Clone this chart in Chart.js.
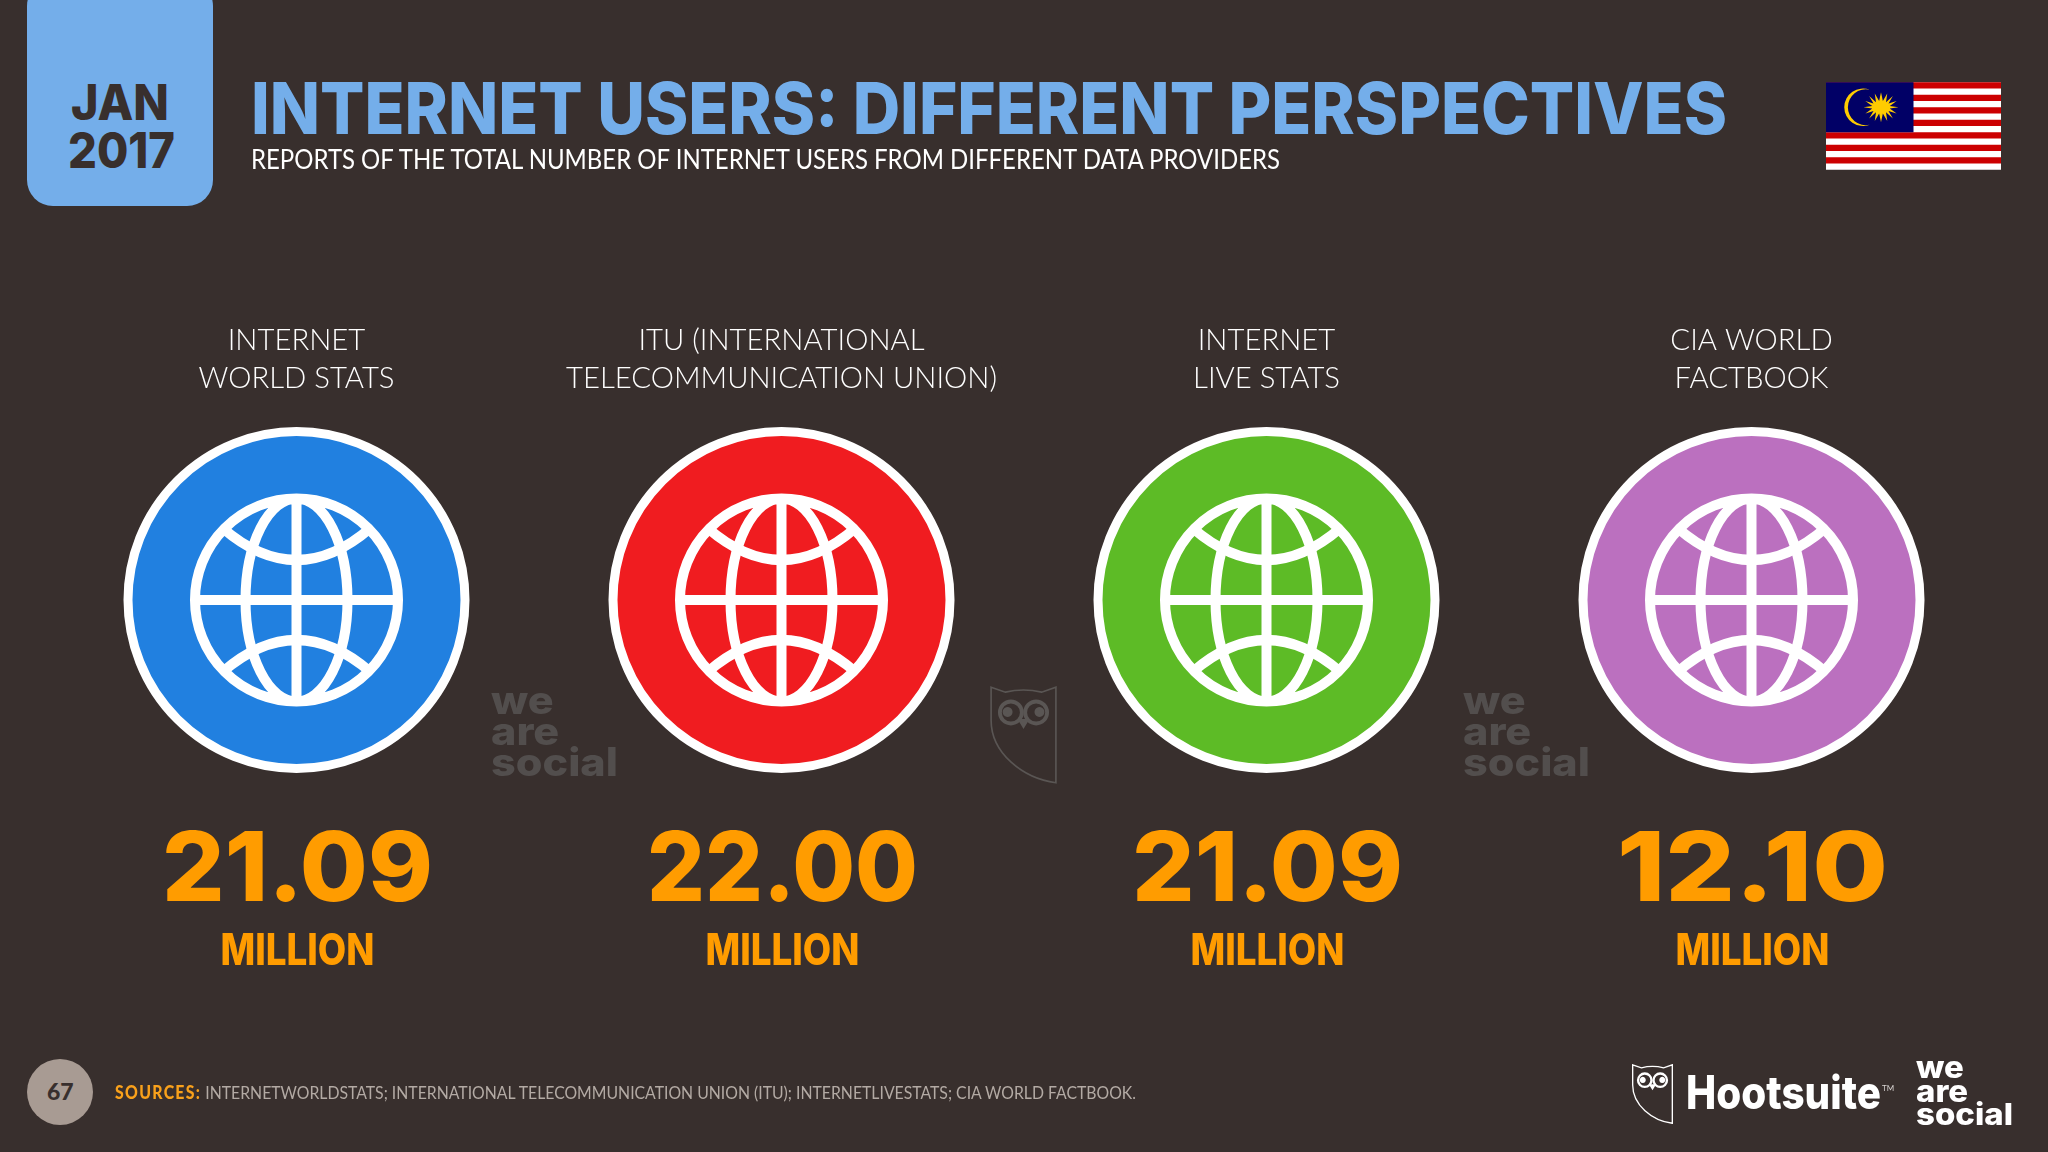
<!DOCTYPE html>
<html>
<head>
<meta charset="utf-8">
<title>Internet users: different perspectives</title>
<script src="https://cdn.jsdelivr.net/npm/chart.js@4"></script>
<style>
  html, body { margin: 0; padding: 0; background: #382f2d; }
  #slide { position: relative; width: 2048px; height: 1152px; overflow: hidden; background: #382f2d; font-family: Lato, sans-serif; }
  #chartBox { position: absolute; left: 0; top: 0; width: 2048px; height: 1152px; }
  .txt { position: absolute; white-space: nowrap; line-height: 1; transform-origin: 0 50%; }
  #badge { position: absolute; left: 27px; top: -20px; width: 186px; height: 226px; background: #74aeea; border-radius: 26px; }
  #jan, #year { color: #382f2d; font-family: Inter, sans-serif; font-weight: 800; }
  #jan { font-size: 49px; left: 71px; top: 78px; }
  #year { font-size: 50px; left: 68px; top: 125px; }
  #title { color: #74aeea; font-family: Inter, sans-serif; font-weight: 800; font-size: 72px; left: 251px; top: 72px; }
  #subtitle { color: #fff; font-size: 27px; left: 251px; top: 145px; }
  #pageDot { position: absolute; left: 27px; top: 1059px; width: 66px; height: 66px; border-radius: 50%; background: #a89b93; }
  #pageNo { color: #382f2d; font-weight: 900; font-size: 23px; left: 47px; top: 1080px; }
  #sources { font-size: 18px; left: 115px; top: 1083px; color: #b3aaa4; }
  #sources b { color: #f9a11b; font-weight: 900; letter-spacing: 1.5px; }
  #hootsuite { color: #fff; font-family: Inter, sans-serif; font-weight: 800; font-size: 46px; left: 1686px; top: 1069px; }
  #tm { color: #d8d4d2; font-size: 8px; left: 1882px; top: 1084px; }
  .ws { position: absolute; font-family: Inter, sans-serif; font-weight: 800; line-height: 0.79; white-space: pre; font-size: 39px; transform-origin: 0 0; }
  #flag, .owl { position: absolute; }
</style>
</head>
<body>
<div id="slide">
  <div id="chartBox"><canvas id="usersCanvas"></canvas></div>
  <div id="badge"></div>
  <div class="txt" id="jan" data-w="98">JAN</div>
  <div class="txt" id="year" data-w="107">2017</div>
  <div class="txt" id="title" data-w="1476">INTERNET USERS: DIFFERENT PERSPECTIVES</div>
  <div class="txt" id="subtitle" data-w="1029">REPORTS OF THE TOTAL NUMBER OF INTERNET USERS FROM DIFFERENT DATA PROVIDERS</div>

  <svg id="flag" style="left:1826px;top:82px" width="175" height="88" viewBox="0 0 28 14">
    <rect width="28" height="14" fill="#fff"/>
    <g fill="#cc0001">
      <rect y="0" width="28" height="1"/><rect y="2" width="28" height="1"/><rect y="4" width="28" height="1"/>
      <rect y="6" width="28" height="1"/><rect y="8" width="28" height="1"/><rect y="10" width="28" height="1"/>
      <rect y="12" width="28" height="1"/>
    </g>
    <rect width="14" height="8" fill="#010066"/>
    <path d="M7 1.2 A3 3 0 1 0 7 6.8 A2.87 2.87 0 1 1 7 1.2 Z" fill="#ffcc00"/>
    <path id="sun" fill="#ffcc00" d="M8.8 1.6 L9.1 3 L9.8 1.8 L9.6 3.2 L10.7 2.2 L10 3.4 L11.3 3 L10.2 3.8 L11.6 4 L10.2 4.2 L11.3 5 L10 4.6 L10.7 5.8 L9.6 4.8 L9.8 6.2 L9.1 5 L8.8 6.4 L8.5 5 L7.8 6.2 L8 4.8 L6.9 5.8 L7.6 4.6 L6.3 5 L7.4 4.2 L6 4 L7.4 3.8 L6.3 3 L7.6 3.4 L6.9 2.2 L8 3.2 L7.8 1.8 L8.5 3 Z"/>
  </svg>

  <div class="ws" style="left:491px;top:685px;color:#524e4d" data-w="127">we
are
social</div>
  <div class="ws" style="left:1463px;top:685px;color:#524e4d" data-w="127">we
are
social</div>
  <svg class="owl" style="left:990px;top:686px" width="67" height="98" viewBox="0 0 122 178">
    <g fill="none" stroke="#5a5654" stroke-width="3">
      <path d="M2 2 L28 11 Q61 3 94 11 L120 2 V176 C60 168 2 122 2 62 Z"/>
    </g>
    <g fill="none" stroke="#5a5654" stroke-width="7">
      <circle cx="38" cy="48" r="20"/><circle cx="84" cy="48" r="20"/>
    </g>
    <path d="M50 60 H72 L61 78 Z M32 38 a9 9 0 1 0 .1 0 Z M90 38 a9 9 0 1 0 .1 0 Z" fill="#5a5654"/>
  </svg>

  <div id="pageDot"></div>
  <div class="txt" id="pageNo">67</div>
  <div class="txt" id="sources" data-w="1021"><b>SOURCES:</b> INTERNETWORLDSTATS; INTERNATIONAL TELECOMMUNICATION UNION (ITU); INTERNETLIVESTATS; CIA WORLD FACTBOOK.</div>

  <svg class="owl" style="left:1632px;top:1064px" width="41" height="60" viewBox="0 0 122 178">
    <g fill="none" stroke="#fff" stroke-width="4">
      <path d="M2 2 L28 11 Q61 3 94 11 L120 2 V176 C60 168 2 122 2 62 Z"/>
    </g>
    <g fill="none" stroke="#fff" stroke-width="7">
      <circle cx="38" cy="48" r="20"/><circle cx="84" cy="48" r="20"/>
    </g>
    <path d="M50 60 H72 L61 78 Z M32 38 a9 9 0 1 0 .1 0 Z M90 38 a9 9 0 1 0 .1 0 Z" fill="#fff"/>
  </svg>
  <div class="txt" id="hootsuite" data-w="195">Hootsuite</div>
  <div class="txt" id="tm">TM</div>
  <div class="ws" style="left:1916px;top:1056px;color:#fff;font-size:30px" data-w="97">we
are
social</div>
</div>

<script>
const providers = [
    ['INTERNET', 'WORLD STATS'],
    ['ITU (INTERNATIONAL', 'TELECOMMUNICATION UNION)'],
    ['INTERNET', 'LIVE STATS'],
    ['CIA WORLD', 'FACTBOOK']
];
const users = [21.09, 22.00, 21.09, 12.10];
const unitLabel = 'MILLION';
const rows = ['Total internet users'];
const circleColors = ['#2180e0', '#f01c20', '#5dbb26', '#bb70bf'];

const orange = '#ff9c00';

// squeeze a line of canvas text to the measured width in the slide
function drawFitted(ctx, text, x, y, font, width) {
    ctx.save();
    ctx.font = font;
    ctx.textAlign = 'center';
    ctx.textBaseline = 'alphabetic';
    ctx.fillStyle = orange;
    ctx.translate(x, y);
    ctx.scale(width / ctx.measureText(text).width, 1);
    ctx.fillText(text, 0, 0);
    ctx.restore();
}

function drawGlobe(ctx, x, y) {
    const r = 101.5;
    ctx.save();
    ctx.translate(x, y);
    ctx.strokeStyle = '#fff';
    ctx.lineWidth = 10;

    ctx.beginPath();
    ctx.arc(0, 0, r, 0, Math.PI * 2);
    ctx.moveTo(-r, 0);
    ctx.lineTo(r, 0);
    ctx.moveTo(0, -r);
    ctx.lineTo(0, r);
    ctx.moveTo(51, 0);
    ctx.ellipse(0, 0, 51, r, 0, 0, Math.PI * 2);
    ctx.stroke();

    ctx.beginPath();
    ctx.arc(0, 0, r, 0, Math.PI * 2);
    ctx.clip();
    ctx.beginPath();
    ctx.moveTo(-74, -72);
    ctx.quadraticCurveTo(0, -8, 74, -72);
    ctx.moveTo(-74, 72);
    ctx.quadraticCurveTo(0, 8, 74, 72);
    ctx.stroke();
    ctx.restore();
}

const circleExtras = {
    id: 'circleExtras',
    afterDatasetsDraw(chart) {
        const ctx = chart.ctx;
        chart.getDatasetMeta(0).data.forEach((point, i) => {
            drawGlobe(ctx, point.x, point.y);
            drawFitted(ctx, users[i].toFixed(2), point.x + 1, 901, '800 96px Inter', 271);
            drawFitted(ctx, unitLabel, point.x + 1, 965, '800 44px Inter', 154);
        });
    }
};

const usersChart = new Chart(document.getElementById('usersCanvas'), {
    type: 'line',
    data: {
        labels: providers,
        datasets: [{
            label: 'Internet users (million)',
            data: users.map((v, i) => ({ x: i, y: rows[0], value: v })),
            showLine: false,
            clip: false,
            pointStyle: 'circle',
            pointRadius: 168.5,
            pointHoverRadius: 168.5,
            pointBorderWidth: 9,
            pointBorderColor: '#fff',
            pointBackgroundColor: circleColors
        }]
    },
    plugins: [circleExtras],
    options: {
        responsive: true,
        maintainAspectRatio: false,
        animation: false,
        layout: { autoPadding: false, padding: { left: 54, right: 54, top: 0, bottom: 357 } },
        plugins: { legend: { display: false }, title: { display: false }, tooltip: { enabled: false } },
        scales: {
            x: {
                type: 'category',
                position: 'top',
                offset: true,
                grid: { display: false },
                border: { display: false },
                afterFit: (scale) => {
                    scale.height = 405;
                    scale.paddingLeft = 0;
                    scale.paddingRight = 0;
                },
                ticks: {
                    color: '#fff',
                    padding: 0,
                    maxRotation: 0,
                    autoSkip: false,
                    font: { family: 'Lato', size: 29.3, weight: '300', lineHeight: 1.29 }
                }
            },
            y: {
                type: 'category',
                labels: rows,
                offset: true,
                display: false
            }
        }
    }
});

document.querySelectorAll('[data-w]').forEach((el) => {
    const w = el.getBoundingClientRect().width;
    const isBlock = el.classList.contains('ws');
    el.style.transform = 'scaleX(' + (Number(el.dataset.w) / w) + ')';
    if (isBlock) el.style.transformOrigin = '0 0';
});
</script>
</body>
</html>
